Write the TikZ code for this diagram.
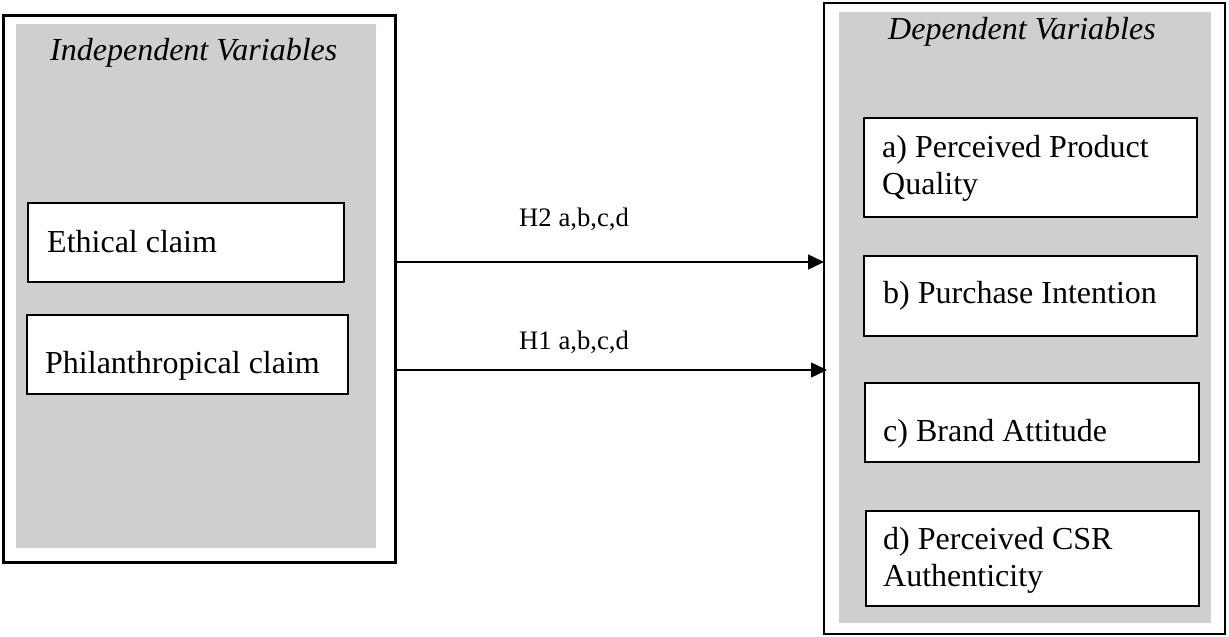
\documentclass[tikz,border=0pt]{standalone}
\usepackage{fontspec}
\setmainfont{Liberation Serif}
\usetikzlibrary{arrows.meta}
\definecolor{panelgray}{RGB}{208,206,207}
\begin{document}
\begin{tikzpicture}[x=1pt,y=-1pt,
  frame/.style={draw=black, line width=3pt, inner sep=0pt, outer sep=0pt, anchor=north west},
  panel/.style={fill=panelgray, inner sep=0pt, outer sep=0pt, anchor=north west},
  varbox/.style={draw=black, fill=white, line width=2.7pt, inner sep=0pt, outer sep=0pt, anchor=north west},
  lbl/.style={font=\fontsize{32}{37}\selectfont, inner sep=0pt, anchor=base west, align=left},
  head/.style={font=\fontsize{32}{37}\selectfont\itshape, inner sep=0pt, anchor=base west},
  hyp/.style={font=\fontsize{26.7}{31}\selectfont, inner sep=0pt, anchor=base west},
  link/.style={line width=1.5pt, -{Triangle[length=16pt,width=15pt]}}]
\useasboundingbox (0,0) rectangle (1229,637);

% independent variables panel
\node[frame, minimum width=392pt, minimum height=547pt] (indep) at (3,15) {};
\node[panel, minimum width=360pt, minimum height=524pt] (indepbg) at (16,24) {};
\node[head] (indeptitle) at (50,60) {Independent Variables};
\node[varbox, minimum width=316pt, minimum height=79pt] (eth) at (28,203) {};
\node[lbl] (ethtxt) at (47,252) {Ethical claim};
\node[varbox, minimum width=321pt, minimum height=79pt] (phil) at (27,315) {};
\node[lbl] (philtxt) at (45,373) {Philanthropical claim};

% dependent variables panel (multi-line labels are anchored at their last line)
\node[frame, line width=2.5pt, minimum width=401pt, minimum height=631pt] (dep) at (824,3) {};
\node[panel, minimum width=372pt, minimum height=611pt] (depbg) at (839,12) {};
\node[head] (deptitle) at (888,39) {Dependent Variables};
\node[varbox, minimum width=333pt, minimum height=99pt] (qual) at (864,118) {};
\node[lbl] (qualtxt) at (882,194) {a) Perceived Product\\Quality};
\node[varbox, minimum width=333pt, minimum height=80pt] (pi) at (864,256) {};
\node[lbl] (pitxt) at (883,303) {b) Purchase Intention};
\node[varbox, minimum width=334pt, minimum height=79pt] (ba) at (865,383) {};
\node[lbl] (batxt) at (883,441) {c) Brand Attitude};
\node[varbox, minimum width=333pt, minimum height=95pt] (csr) at (866,511) {};
\node[lbl] (csrtxt) at (883,586) {d) Perceived CSR\\Authenticity};

% hypothesis links
\coordinate (yH2) at (0,262);
\coordinate (yH1) at (0,370);
\draw[link] (indep.east |- yH2) -- (dep.west |- yH2);
\draw[link, shorten >=-3pt] (indep.east |- yH1) -- (dep.west |- yH1);
\node[hyp] (h2) at (519,226) {H2 a,b,c,d};
\node[hyp] (h1) at (519,349) {H1 a,b,c,d};
\end{tikzpicture}
\end{document}
